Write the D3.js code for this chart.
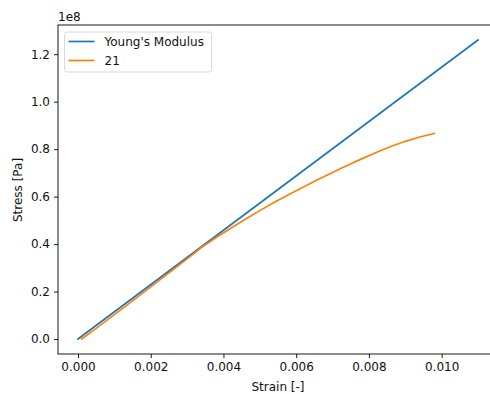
<!DOCTYPE html>
<html>
<head>
<meta charset="utf-8">
<script src="https://cdn.jsdelivr.net/npm/d3@7"></script>
<style>
  body { margin: 0; background: #fff; }
  svg { display: block; font-family: "DejaVu Sans", sans-serif; }
</style>
</head>
<body>
<svg id="chart" width="490" height="394"></svg>
<script>
// chart size and axes box (the right edge runs past the picture, as in the source)
var width = 490, height = 394;
var margin = {left: 58, top: 25, right: 498, bottom: 354};
var fontSize = "12px";

// Young's modulus line
var modulusStrain = [0, 0.011];
var modulusStress = [0, 1.26e8];

// measured curve "21"
var curveStrain = [0.0001, 0.0005, 0.001, 0.0015, 0.002, 0.0025, 0.003, 0.0034,
                   0.0038, 0.0042, 0.0046, 0.0050, 0.0054, 0.0058, 0.0062, 0.0066,
                   0.0070, 0.0074, 0.0078, 0.0082, 0.0086, 0.0090, 0.0094, 0.0098];
var curveStress = [0.0, 0.045e8, 0.103e8, 0.161e8, 0.220e8, 0.279e8, 0.338e8, 0.386e8,
                   0.428e8, 0.467e8, 0.505e8, 0.541e8, 0.576e8, 0.609e8, 0.641e8, 0.672e8,
                   0.702e8, 0.731e8, 0.759e8, 0.786e8, 0.811e8, 0.833e8, 0.851e8, 0.866e8];

var xTicks = [0, 0.002, 0.004, 0.006, 0.008, 0.010];
var yTicks = [0, 0.2e8, 0.4e8, 0.6e8, 0.8e8, 1.0e8, 1.2e8];
var seriesNames = ["Young's Modulus", "21"];
var colors = ["#1f77b4", "#ff7f0e"];

var svg = d3.select("#chart");

var x = d3.scaleLinear().domain([-0.00055, 0.01155]).range([margin.left, margin.right]);
var y = d3.scaleLinear().domain([-0.063e8, 1.323e8]).range([margin.bottom, margin.top]);

var line = d3.line()
  .x(function(d) { return x(d[0]); })
  .y(function(d) { return y(d[1]); });

// lines
var series = [
  d3.zip(modulusStrain, modulusStress),
  d3.zip(curveStrain, curveStress)
];
svg.selectAll(".series")
  .data(series)
  .enter().append("path")
    .attr("class", "series")
    .attr("d", line)
    .style("fill", "none")
    .style("stroke", function(d, i) { return colors[i]; })
    .style("stroke-width", 1.7)
    .style("stroke-linecap", "square")
    .style("stroke-linejoin", "round");

// axes
var xAxis = d3.axisBottom(x).tickValues(xTicks).tickFormat(d3.format(".3f")).tickSizeOuter(0).tickSize(4).tickPadding(4);
var yAxis = d3.axisLeft(y).tickValues(yTicks).tickFormat(function(d) { return (d / 1e8).toFixed(1); }).tickSizeOuter(0).tickSize(4).tickPadding(4);

var gx = svg.append("g").attr("transform", "translate(0," + margin.bottom + ")").call(xAxis);
var gy = svg.append("g").attr("transform", "translate(" + margin.left + ",0)").call(yAxis);
[gx, gy].forEach(function(g) {
  g.select(".domain").remove();
  g.selectAll("line").style("stroke", "#000").style("stroke-width", 0.9);
  g.selectAll("text").style("font-size", fontSize).style("fill", "#111").style("font-family", "DejaVu Sans");
});

// spines
svg.append("rect")
  .attr("x", margin.left).attr("y", margin.top)
  .attr("width", margin.right - margin.left).attr("height", margin.bottom - margin.top)
  .style("fill", "none").style("stroke", "#000").style("stroke-width", 0.9);

// labels
svg.append("text").attr("x", 278).attr("y", 391)
  .attr("text-anchor", "middle").style("font-size", fontSize).style("fill", "#111")
  .text("Strain [-]");
svg.append("text").attr("transform", "translate(22,190) rotate(-90)")
  .attr("text-anchor", "middle").style("font-size", fontSize).style("fill", "#111")
  .text("Stress [Pa]");
svg.append("text").attr("x", margin.left).attr("y", 21)
  .style("font-size", fontSize).style("fill", "#111")
  .text("1e8");

// legend
var legend = svg.append("g").attr("transform", "translate(64.5,32)");
legend.append("rect")
  .attr("width", 147).attr("height", 40).attr("rx", 2.5)
  .style("fill", "#fff").style("fill-opacity", 0.8)
  .style("stroke", "#d6d6d6").style("stroke-width", 0.9);
var items = legend.selectAll(".item")
  .data(seriesNames)
  .enter().append("g")
    .attr("class", "item")
    .attr("transform", function(d, i) { return "translate(0," + (9.5 + i * 19) + ")"; });
items.append("line")
  .attr("x1", 4).attr("x2", 30).attr("y1", 0).attr("y2", 0)
  .style("stroke", function(d, i) { return colors[i]; })
  .style("stroke-width", 1.7);
items.append("text")
  .attr("x", 40).attr("y", 4.5)
  .style("font-size", fontSize).style("fill", "#111")
  .text(function(d) { return d; });
</script>
</body>
</html>
